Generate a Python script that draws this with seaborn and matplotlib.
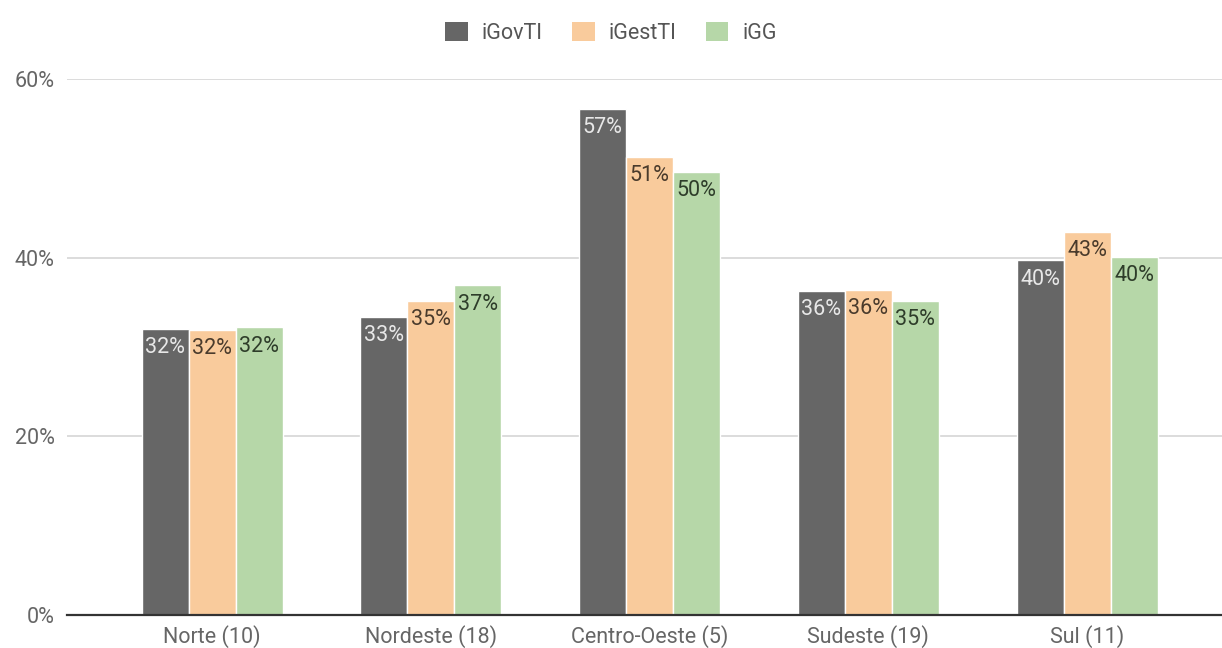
import matplotlib
matplotlib.use("Agg")
import matplotlib.pyplot as plt
from matplotlib.patches import Patch
from matplotlib.ticker import PercentFormatter
import seaborn as sns
import pandas as pd

# regions (number of organisations in brackets)
REGIONS = ["Norte (10)", "Nordeste (18)", "Centro-Oeste (5)", "Sudeste (19)", "Sul (11)"]
SERIES = ["iGovTI", "iGestTI", "iGG"]

# values in %
iGovTI = [32.0, 33.4, 56.7, 36.3, 39.7]
iGestTI = [31.9, 35.2, 51.3, 36.4, 42.9]
iGG = [32.2, 36.9, 49.6, 35.2, 40.1]

COLORS = ["#666666", "#f9cb9c", "#b6d7a8"]
LABEL_COLORS = ["#e8e8e8", "#4a3b2c", "#2e3d2a"]

df = pd.DataFrame({"region": REGIONS, "iGovTI": iGovTI, "iGestTI": iGestTI, "iGG": iGG})
df = df.melt(id_vars="region", var_name="index", value_name="value")

sns.set_style("white")
plt.rcParams['font.family'] = ['Roboto', 'DejaVu Sans']

fig = plt.figure(figsize=(12.22, 6.48), dpi=100)
ax = fig.add_axes([0.055, 0.051, 0.945, 0.827])

sns.barplot(data=df, x="region", y="value", hue="index", hue_order=SERIES,
            order=REGIONS, palette=COLORS, width=0.645, saturation=1,
            edgecolor="white", linewidth=1, legend=False, ax=ax)

# value labels inside the top of each bar
for s, cont in enumerate(ax.containers):
    vals = [iGovTI, iGestTI, iGG][s]
    for bar, v in zip(cont, vals):
        ax.annotate(f"{v:.0f}%", (bar.get_x() + bar.get_width() / 2, bar.get_height()),
                    xytext=(0, -6), textcoords="offset points", ha="center", va="top",
                    fontsize=15.5, color=LABEL_COLORS[s])

ax.set_ylim(0, 60)
ax.set_xlim(-0.663, 4.617)
ax.set_yticks([0, 20, 40, 60])
ax.yaxis.set_major_formatter(PercentFormatter(xmax=100, decimals=0))
ax.yaxis.grid(True, color="#d6d6d6", linewidth=1.2)
ax.set_axisbelow(True)
ax.set_xlabel("")
ax.set_ylabel("")
ax.tick_params(axis="y", length=0, pad=9, labelsize=15.5, labelcolor="#666666")
ax.tick_params(axis="x", length=0, pad=7, labelsize=15.5, labelcolor="#666666")

for side in ["top", "right", "left"]:
    ax.spines[side].set_visible(False)
ax.spines["bottom"].set_color("#333333")
ax.spines["bottom"].set_linewidth(1.6)

handles = [Patch(facecolor=c, edgecolor="none") for c in COLORS]
fig.legend(handles, SERIES, loc="center", bbox_to_anchor=(0.5, 1 - 33 / 648), ncol=3,
           frameon=False, fontsize=15.5, labelcolor="#555555",
           handlelength=1.05, handleheight=0.95, handletextpad=0.65, columnspacing=1.35)

plt.savefig("out.png", dpi=100)
